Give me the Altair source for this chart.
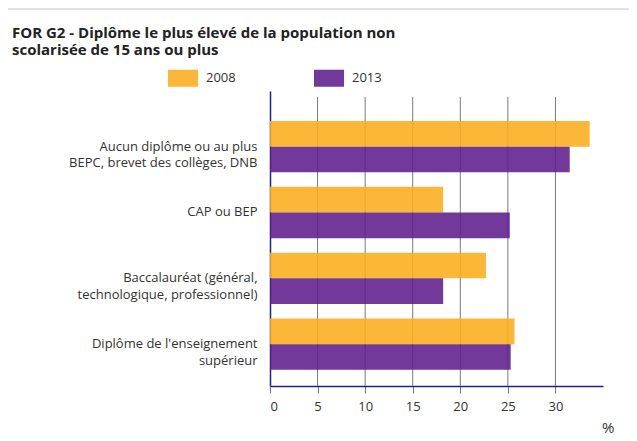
import altair as alt
import pandas as pd

categories = [
    "Aucun diplôme ou au plus\nBEPC, brevet des collèges, DNB",
    "CAP ou BEP",
    "Baccalauréat (général,\ntechnologique, professionnel)",
    "Diplôme de l'enseignement\nsupérieur",
]
years = ["2008", "2013"]
values_2008 = [33.6, 18.2, 22.7, 25.7]
values_2013 = [31.5, 25.2, 18.2, 25.3]
x_ticks = [0, 5, 10, 15, 20, 25, 30]
grid_ticks = [5, 10, 15, 20, 25, 30]

rows = []
for c, v in zip(categories, values_2008):
    rows.append({"cat": c, "year": "2008", "value": v})
for c, v in zip(categories, values_2013):
    rows.append({"cat": c, "year": "2013", "value": v})
df = pd.DataFrame(rows)
grid_df = pd.DataFrame({"value": grid_ticks})

W, H = 333, 295
NAVY = "#1f1f96"

xscale = alt.Scale(domain=[0, 35], nice=False, zero=True)
xaxis = alt.Axis(
    values=x_ticks,
    grid=False,
    domainColor=NAVY,
    domainWidth=1.5,
    tickColor="#7a7a7a",
    tickSize=7,
    labelPadding=7,
    labelFontSize=13,
    labelColor="#333333",
    title="%",
    titleFontSize=15,
    titleFontWeight="normal",
    titleColor="#333333",
    titleAnchor="end",
    titleAlign="right",
    titleX=344,
    titleY=46,
    titleBaseline="alphabetic",
)

border = alt.Chart(pd.DataFrame({"b": [0]})).mark_rule(
    color="#e2e2e2", strokeWidth=2
).encode(x=alt.value(-262), x2=alt.value(W + 26), y=alt.value(-82))

grid = alt.Chart(grid_df).mark_rule(color="#7a7a7a", strokeWidth=1).encode(
    x=alt.X("value:Q", scale=xscale, axis=xaxis),
    y=alt.value(6),
    y2=alt.value(H),
)

bars = alt.Chart(df).mark_bar(opacity=0.88).encode(
    y=alt.Y(
        "cat:N",
        sort=categories,
        scale=alt.Scale(paddingInner=0.22, paddingOuter=0.35, align=0.65),
        axis=alt.Axis(
            title=None,
            ticks=False,
            domainColor=NAVY,
            domainWidth=1.5,
            labelPadding=13,
            labelFontSize=13,
            labelLineHeight=16.5,
            labelColor="#333333",
            labelLimit=260,
            labelExpr="split(datum.label, '\\n')",
        ),
    ),
    yOffset=alt.YOffset("year:N", sort=years, scale=alt.Scale(paddingInner=0, paddingOuter=0)),
    x=alt.X("value:Q", scale=xscale, axis=xaxis),
    color=alt.Color(
        "year:N",
        sort=years,
        scale=alt.Scale(domain=years, range=["#fcad1d", "#5f1d8c"]),
        legend=alt.Legend(
            title=None,
            orient="none",
            direction="horizontal",
            legendX=-102,
            legendY=-28,
            symbolType="M-1,-0.567H1V0.567H-1Z",
            symbolSize=900,
            symbolStrokeWidth=0,
            symbolOpacity=0.88,
            labelFontSize=13,
            labelOffset=8,
            labelColor="#333333",
            columnPadding=78,
        ),
    ),
)

chart = (
    alt.layer(border, grid, bars)
    .properties(
        width=W,
        height=H,
        autosize=alt.AutoSizeParams(type="none"),
        padding={"left": 262, "top": 83, "right": 26, "bottom": 50},
        title=alt.TitleParams(
            text=[
                "FOR G2 - Diplôme le plus élevé de la population non",
                "scolarisée de 15 ans ou plus",
            ],
            anchor="start",
            frame="group",
            dx=-258,
            fontSize=15,
            fontWeight="bold",
            color="#222222",
            lineHeight=17,
            offset=-50,
        ),
    )
    .configure(font="Open Sans")
    .configure_view(stroke=None)
)

chart.save("out.html", embed_options={"renderer": "svg", "actions": False})
